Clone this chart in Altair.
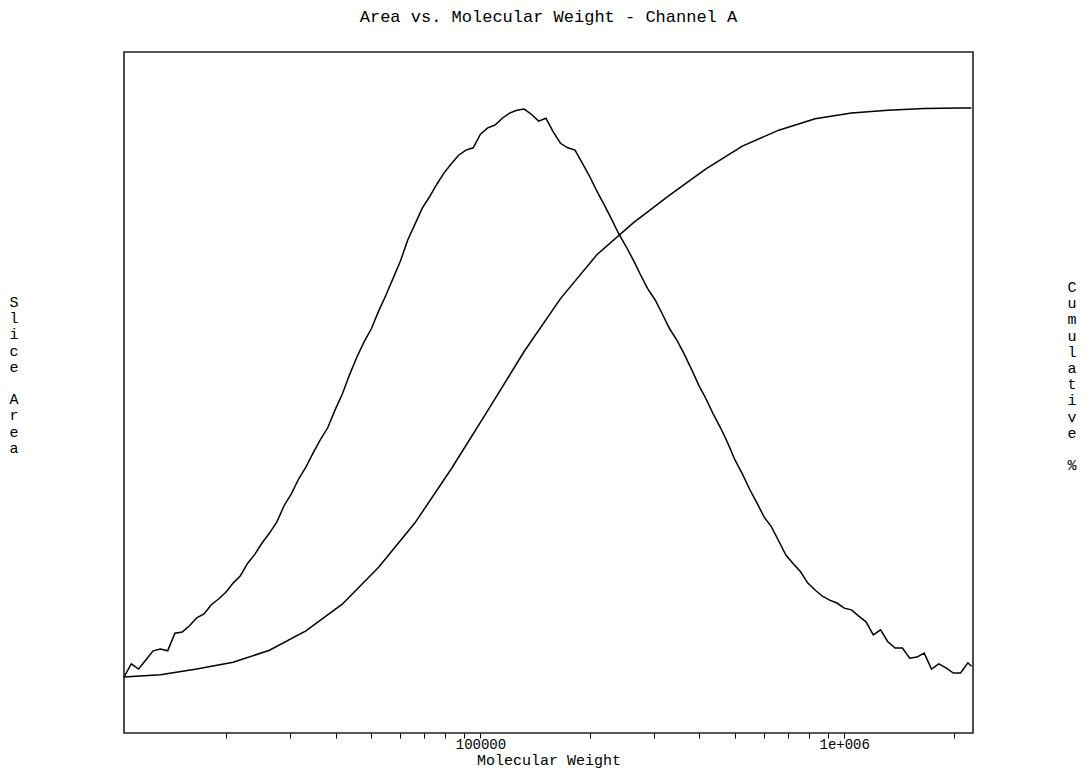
import altair as alt
import pandas as pd

# Slice molecular weights (g/mol) and normalised slice area
mol_weight = [
    10471, 10965, 11482, 12023, 12589, 13183, 13804, 14454, 15136, 15849,
    16596, 17378, 18197, 19055, 19953, 20893, 21878, 22909, 23988, 25119,
    26303, 27542, 28840, 30200, 31623, 33113, 34674, 36308, 38019, 39811,
    41687, 43652, 45709, 47863, 50119, 52481, 54954, 57544, 60256, 63096,
    66069, 69183, 72444, 75858, 79433, 83176, 87096, 91201, 95499, 100000,
    104713, 109648, 114815, 120226, 125893, 131826, 138038, 144544, 151356, 158489,
    165959, 173780, 181970, 190546, 199526, 208930, 218776, 229087, 239883, 251189,
    263027, 275423, 288403, 301995, 316228, 331131, 346737, 363078, 380189, 398107,
    416869, 436516, 457088, 478630, 501187, 524807, 549541, 575440, 602560, 630957,
    660693, 691831, 724436, 758578, 794328, 831764, 870964, 912011, 954993, 1000000,
    1047129, 1096478, 1148154, 1202264, 1258925, 1318257, 1380384, 1445440, 1513561, 1584893,
    1659587, 1737801, 1819701, 1905461, 1995262, 2089296, 2187762, 2238721,
]
slice_area = [
    0, 2.3, 1.4, 3.0, 4.6, 4.9, 4.6, 7.7, 7.9, 9.0,
    10.4, 11.1, 12.7, 13.7, 14.9, 16.5, 17.8, 20.0, 21.6, 23.6,
    25.3, 27.2, 30.1, 32.2, 34.8, 36.9, 39.4, 41.7, 43.8, 46.9,
    49.7, 53.1, 56.2, 58.9, 61.2, 64.3, 67.1, 70.1, 73.1, 76.8,
    79.6, 82.4, 84.4, 86.6, 88.6, 90.2, 91.7, 92.6, 93.0, 95.4,
    96.5, 97.0, 98.2, 99.1, 99.6, 99.8, 98.9, 97.7, 98.2, 95.8,
    93.8, 93.0, 92.6, 90.3, 88.0, 85.4, 83.0, 80.5, 77.9, 75.7,
    73.3, 70.7, 68.2, 66.3, 63.8, 61.2, 59.2, 56.8, 54.1, 51.3,
    48.9, 46.2, 43.8, 41.1, 38.1, 35.7, 33.0, 30.6, 28.1, 26.4,
    23.9, 21.4, 19.9, 18.5, 16.5, 15.3, 14.2, 13.5, 13.0, 12.1,
    11.8, 10.7, 9.7, 7.4, 8.3, 6.2, 5.1, 5.1, 3.3, 3.5,
    4.2, 1.4, 2.3, 1.6, 0.7, 0.7, 2.5, 1.9,
]

# Cumulative percentage curve
cum_weight = [
    10471, 13183, 16596, 20893, 26303, 33113, 41687, 52481, 66069, 83176,
    104713, 131826, 165959, 208930, 263027, 331131, 416869, 524807, 660693, 831764,
    1047129, 1318257, 1659587, 2089296, 2238721,
]
cum_percent = [
    0, 0.4, 1.4, 2.6, 4.7, 8.1, 12.8, 19.3, 27.1, 36.6,
    46.8, 57.2, 66.5, 74.2, 79.8, 84.7, 89.3, 93.3, 96.1, 98.1,
    99.1, 99.6, 99.9, 100.0, 100.0,
]

x_ticks = [20000, 30000, 40000, 50000, 60000, 70000, 80000, 90000, 100000,
           200000, 300000, 400000, 500000, 600000, 700000, 800000, 900000,
           1000000, 2000000]

# Vertical, one-letter-per-line axis captions, one block per word
left_words = [["S", "l", "i", "c", "e"], ["A", "r", "e", "a"]]
right_words = [["C", "u", "m", "u", "l", "a", "t", "i", "v", "e"], ["%"]]

FONT = "Liberation Mono"
CAPTION_SIZE = 15
LINE_H = 16.2

slice_df = pd.DataFrame({"mw": mol_weight, "value": slice_area})
cum_df = pd.DataFrame({"mw": cum_weight, "value": cum_percent})

x_scale = alt.Scale(type="log", domain=[10471, 2260000], nice=False)
y_scale = alt.Scale(domain=[-9.84, 109.84], nice=False, zero=False)

x_axis = alt.Axis(
    title="Molecular Weight",
    values=x_ticks,
    labelExpr="datum.value == 100000 ? '100000' : (datum.value == 1000000 ? '1e+006' : '')",
    grid=False,
    domain=False,
    ticks=True,
    tickSize=5,
    tickColor="black",
    tickWidth=1,
    labelFont=FONT,
    labelFontSize=14,
    labelColor="black",
    labelBaseline="middle",
    labelPadding=6,
    labelFlush=False,
    labelOverlap=False,
    titleFont=FONT,
    titleFontSize=15,
    titleFontWeight="normal",
    titleColor="black",
    titleBaseline="middle",
    titleY=26.5,
)

slice_line = alt.Chart(slice_df).mark_line(color="black", strokeWidth=1.5).encode(
    x=alt.X("mw:Q", scale=x_scale, axis=x_axis),
    y=alt.Y("value:Q", scale=y_scale, axis=None),
)

cum_line = alt.Chart(cum_df).mark_line(color="black", strokeWidth=1.5).encode(
    x=alt.X("mw:Q", scale=x_scale),
    y=alt.Y("value:Q", scale=y_scale, axis=None),
)

label_src = pd.DataFrame({"k": [0]})


def caption(letters, x, y):
    return alt.Chart(label_src).mark_text(
        font=FONT, fontSize=CAPTION_SIZE, lineHeight=LINE_H,
        align="center", baseline="middle", color="black",
    ).encode(x=alt.value(x), y=alt.value(y), text=alt.value(letters))


# word blocks: second word starts after one blank line
captions = [
    caption(left_words[0], -110, 250),
    caption(left_words[1], -110, 250 + 6 * LINE_H),
    caption(right_words[0], 948, 235),
    caption(right_words[1], 948, 235 + 11 * LINE_H),
]

chart = alt.layer(slice_line, cum_line, *captions).properties(
    width=849,
    height=681,
    autosize="none",
    padding={"left": 124, "top": 52, "right": 116, "bottom": 38},
    background="white",
    title=alt.TitleParams(
        "Area vs. Molecular Weight - Channel A",
        font=FONT,
        fontSize=17,
        fontWeight="normal",
        color="black",
        anchor="middle",
        baseline="alphabetic",
        offset=13,
    ),
).configure_view(stroke="#222", strokeWidth=1.6)

chart.save("out.html", embed_options={"renderer": "svg", "actions": False})
